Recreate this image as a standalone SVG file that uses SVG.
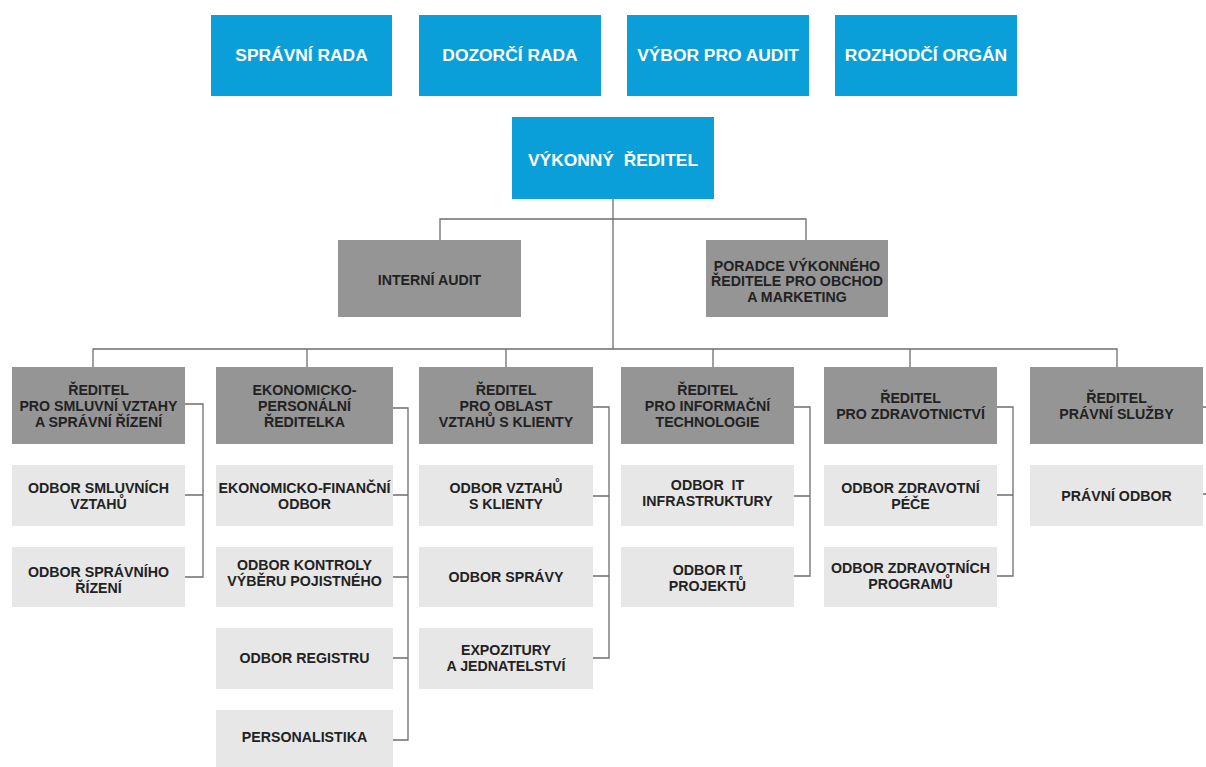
<svg xmlns="http://www.w3.org/2000/svg" width="1206" height="767" viewBox="0 0 1206 767">
<style>
.blue{fill:#0a9fd9}
.dark{fill:#959595}
.light{fill:#e7e7e7}
.tw{font-family:"Liberation Sans",Arial,sans-serif;font-weight:bold;font-size:17.4px;fill:#ffffff;text-anchor:middle}
.tb{font-family:"Liberation Sans",Arial,sans-serif;font-weight:bold;font-size:14.2px;fill:#222222;text-anchor:middle}
.ln{fill:none;stroke:#6e6e6e;stroke-width:1.3}
</style>
<rect width="1206" height="767" fill="#ffffff"/>
<g id="connectors" class="ln">
<path d="M613 199V349"/>
<path d="M440 240V219H806V240"/>
<path d="M93 367V349H1117V367"/>
<path d="M307 349V367M506 349V367M713 349V367M910 349V367"/>
<path d="M185 404H203V577H185M185 495H203"/>
<path d="M393 408H408V740H393M393 495H408M393 577H408M393 658H408"/>
<path d="M593 407H609V658H593M593 496H609M593 576H609"/>
<path d="M794 407H810V576H794M794 496H810"/>
<path d="M997 407H1013V576H997M997 495H1013"/>
<path d="M1203 407H1206M1203 494H1206"/>
</g>
<g id="spravni-rada"><rect class="blue" x="211" y="15" width="181" height="81"/><text class="tw" x="301.5" y="61">SPRÁVNÍ RADA</text></g>
<g id="dozorci-rada"><rect class="blue" x="419" y="15" width="182" height="81"/><text class="tw" x="510" y="61">DOZORČÍ RADA</text></g>
<g id="vybor-pro-audit"><rect class="blue" x="627" y="15" width="182" height="81"/><text class="tw" x="718" y="61">VÝBOR PRO AUDIT</text></g>
<g id="rozhodci-organ"><rect class="blue" x="835" y="15" width="182" height="81"/><text class="tw" x="926" y="61">ROZHODČÍ ORGÁN</text></g>
<g id="vykonny-reditel"><rect class="blue" x="512" y="117" width="202" height="82"/><text class="tw" x="613" y="166" xml:space="preserve">VÝKONNÝ  ŘEDITEL</text></g>
<g id="interni-audit"><rect class="dark" x="338" y="240" width="183" height="77"/><text class="tb" x="429.5" y="285">INTERNÍ AUDIT</text></g>
<g id="poradce"><rect class="dark" x="706" y="240" width="182" height="77"/><text class="tb" x="797" y="271">PORADCE VÝKONNÉHO</text><text class="tb" x="797" y="286">ŘEDITELE PRO OBCHOD</text><text class="tb" x="797" y="302">A MARKETING</text></g>
<g id="reditel-smluvni"><rect class="dark" x="12" y="367" width="173" height="77"/><text class="tb" x="98.5" y="395">ŘEDITEL</text><text class="tb" x="98.5" y="411">PRO SMLUVNÍ VZTAHY</text><text class="tb" x="98.5" y="427">A SPRÁVNÍ ŘÍZENÍ</text></g>
<g id="ekonomicko-personalni"><rect class="dark" x="216" y="367" width="177" height="77"/><text class="tb" x="304.5" y="395">EKONOMICKO-</text><text class="tb" x="304.5" y="411">PERSONÁLNÍ</text><text class="tb" x="304.5" y="427">ŘEDITELKA</text></g>
<g id="reditel-klienti"><rect class="dark" x="419" y="367" width="174" height="77"/><text class="tb" x="506" y="395">ŘEDITEL</text><text class="tb" x="506" y="411">PRO OBLAST</text><text class="tb" x="506" y="427">VZTAHŮ S KLIENTY</text></g>
<g id="reditel-it"><rect class="dark" x="621" y="367" width="173" height="77"/><text class="tb" x="707.5" y="395">ŘEDITEL</text><text class="tb" x="707.5" y="411">PRO INFORMAČNÍ</text><text class="tb" x="707.5" y="427">TECHNOLOGIE</text></g>
<g id="reditel-zdravotnictvi"><rect class="dark" x="824" y="367" width="173" height="77"/><text class="tb" x="910.5" y="403">ŘEDITEL</text><text class="tb" x="910.5" y="419">PRO ZDRAVOTNICTVÍ</text></g>
<g id="reditel-pravni"><rect class="dark" x="1030" y="367" width="173" height="77"/><text class="tb" x="1116.5" y="403">ŘEDITEL</text><text class="tb" x="1116.5" y="419">PRÁVNÍ SLUŽBY</text></g>
<g id="odbor-smluvnich"><rect class="light" x="12" y="465" width="173" height="61"/><text class="tb" x="98.5" y="493">ODBOR SMLUVNÍCH</text><text class="tb" x="98.5" y="509">VZTAHŮ</text></g>
<g id="odbor-spravniho"><rect class="light" x="12" y="547" width="173" height="60"/><text class="tb" x="98.5" y="577">ODBOR SPRÁVNÍHO</text><text class="tb" x="98.5" y="593">ŘÍZENÍ</text></g>
<g id="ekonomicko-financni"><rect class="light" x="216" y="465" width="177" height="61"/><text class="tb" x="304.5" y="493">EKONOMICKO-FINANČNÍ</text><text class="tb" x="304.5" y="509">ODBOR</text></g>
<g id="odbor-kontroly"><rect class="light" x="216" y="547" width="177" height="60"/><text class="tb" x="304.5" y="570">ODBOR KONTROLY</text><text class="tb" x="304.5" y="586">VÝBĚRU POJISTNÉHO</text></g>
<g id="odbor-registru"><rect class="light" x="216" y="628" width="177" height="61"/><text class="tb" x="304.5" y="663">ODBOR REGISTRU</text></g>
<g id="personalistika"><rect class="light" x="216" y="710" width="177" height="57"/><text class="tb" x="304.5" y="742">PERSONALISTIKA</text></g>
<g id="odbor-vztahu"><rect class="light" x="419" y="465" width="174" height="61"/><text class="tb" x="506" y="493">ODBOR VZTAHŮ</text><text class="tb" x="506" y="509">S KLIENTY</text></g>
<g id="odbor-spravy"><rect class="light" x="419" y="547" width="174" height="60"/><text class="tb" x="506" y="582">ODBOR SPRÁVY</text></g>
<g id="expozitury"><rect class="light" x="419" y="628" width="174" height="61"/><text class="tb" x="506" y="655">EXPOZITURY</text><text class="tb" x="506" y="671">A JEDNATELSTVÍ</text></g>
<g id="odbor-it-infra"><rect class="light" x="621" y="465" width="173" height="61"/><text class="tb" x="707.5" y="490" xml:space="preserve">ODBOR  IT</text><text class="tb" x="707.5" y="506">INFRASTRUKTURY</text></g>
<g id="odbor-it-projektu"><rect class="light" x="621" y="547" width="173" height="60"/><text class="tb" x="707.5" y="575">ODBOR IT</text><text class="tb" x="707.5" y="591">PROJEKTŮ</text></g>
<g id="odbor-zdravotni-pece"><rect class="light" x="824" y="465" width="173" height="61"/><text class="tb" x="910.5" y="493">ODBOR ZDRAVOTNÍ</text><text class="tb" x="910.5" y="509">PÉČE</text></g>
<g id="odbor-zdravotnich-programu"><rect class="light" x="824" y="547" width="173" height="60"/><text class="tb" x="910.5" y="573">ODBOR ZDRAVOTNÍCH</text><text class="tb" x="910.5" y="589">PROGRAMŮ</text></g>
<g id="pravni-odbor"><rect class="light" x="1030" y="465" width="173" height="61"/><text class="tb" x="1116.5" y="501">PRÁVNÍ ODBOR</text></g>
</svg>
